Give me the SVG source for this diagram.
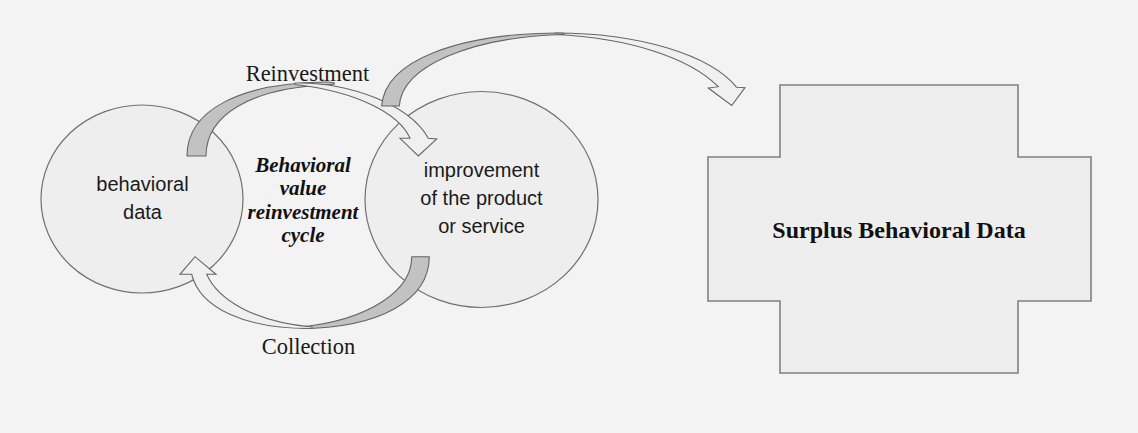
<svg xmlns="http://www.w3.org/2000/svg" width="1138" height="433" viewBox="0 0 1138 433">
<style>
.bg{fill:#f3f3f3}
.node{fill:#eeeeee;stroke:#707070;stroke-width:1.2}
.cross{fill:#eeeeee;stroke:#808080;stroke-width:1.6}
.back{fill:#c2c2c2;stroke:#666666;stroke-width:1.1;stroke-linejoin:round}
.front{fill:#f0f0f0;stroke:#666666;stroke-width:1.1;stroke-linejoin:miter}
.sans{font-family:"Liberation Sans",Arial,sans-serif;font-size:20px;fill:#1a1a1a;text-anchor:middle}
.serif{font-family:"Liberation Serif","Times New Roman",serif;font-size:22.5px;fill:#1a1a1a;text-anchor:middle}
.cyc{font-family:"Liberation Serif","Times New Roman",serif;font-size:21px;font-weight:bold;font-style:italic;fill:#111;text-anchor:middle}
.title{font-family:"Liberation Serif","Times New Roman",serif;font-size:24px;font-weight:bold;fill:#111;text-anchor:middle}
</style>
<rect class="bg" x="0" y="0" width="1138" height="433"/>
<g id="node-behavioral-data">
<ellipse class="node" cx="142" cy="199" rx="101" ry="94"/>
<text class="sans" x="142.5" y="191">behavioral</text>
<text class="sans" x="142.5" y="218.5">data</text>
</g>
<g id="node-improvement">
<ellipse class="node" cx="481.5" cy="199.5" rx="116.5" ry="108"/>
<text class="sans" x="481.5" y="177">improvement</text>
<text class="sans" x="481.5" y="205">of the product</text>
<text class="sans" x="481.5" y="233">or service</text>
</g>
<g id="node-cycle">
<text class="cyc" x="303" y="171.5">Behavioral</text>
<text class="cyc" x="303" y="195">value</text>
<text class="cyc" x="303" y="219">reinvestment</text>
<text class="cyc" x="303" y="242">cycle</text>
</g>
<g id="node-surplus">
<path class="cross" d="M 780 85 H 1018 V 157 H 1091 V 301 H 1018 V 373 H 780 V 301 H 708 V 157 H 780 Z"/>
<text class="title" x="899" y="238">Surplus Behavioral Data</text>
</g>
<g id="connectors">
<g id="arrow-reinvestment">
<path class="back" d="M 187 156 C 187 110 240 83 325 82 C 335 82 338 84 330 84.5 C 250 88 206 115 206 156 Z"/>
<path class="front" d="M 295 83 C 350 82 410 105 428.3 138.3 L 436.7 139 L 418.3 156 L 400 138.3 L 410 138.3 C 400 115 360 92 295 84.5 Z"/>
<text class="serif" x="307.5" y="81">Reinvestment</text>
</g>
<g id="arrow-collection">
<path class="back" d="M 411.7 256.7 L 429.3 256.7 C 429 300 380 328 300 328.5 L 300 327 C 370 320 412 290 411.7 256.7 Z"/>
<path class="front" d="M 312 328.5 C 245 329 200 308 191.7 274.3 L 180 274.3 L 195 256.7 L 216 274.3 L 206.7 274.3 C 218 300 255 322 312 327 Z"/>
<text class="serif" x="308.5" y="353.5">Collection</text>
</g>
<g id="arrow-surplus">
<path class="front" d="M 555 33 C 640 33 710 55 736.7 87.3 L 745 87.7 L 731.7 105.5 L 708.3 88 L 718.3 86.7 C 690 58 630 38 555 34.5 Z"/>
<path class="back" d="M 381.7 106 C 385 60 460 33 560 33 C 566 33 566 34.5 560 34.5 C 470 38 402 66 399.3 106 Z"/>
</g>
</g>
</svg>
